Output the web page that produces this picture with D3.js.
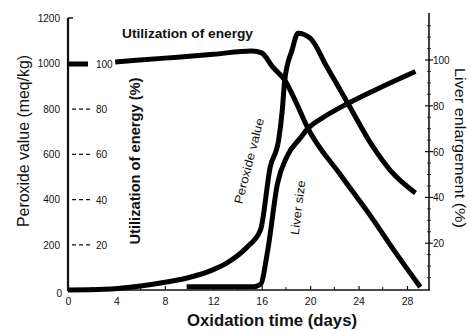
<!DOCTYPE html>
<html>
<head>
<meta charset="utf-8">
<script src="https://cdn.jsdelivr.net/npm/d3@7"></script>
<style>
  body { margin: 0; background: #fff; }
  svg { display: block; }
  text { font-family: "Liberation Sans", Arial, sans-serif; fill: #111; }
</style>
</head>
<body>
<div id="chart"></div>
<script>
var width = 470,
	height = 331;

// x ticks (days)
var dayTicks = [0, 4, 8, 12, 16, 20, 24, 28];
var peroxideTicks = [0, 200, 400, 600, 800, 1000, 1200];
var utilTicks = [20, 40, 60, 80];
var liverTicks = [20, 40, 60, 80, 100];

// Utilization of energy (%) - null = gap where the "100" label sits
var utilDays  = [0, 1.65, 2.7, 3.9, 8, 12, 15.2, 16, 16.9, 17.9, 18.8, 19.8, 22.5, 25, 27, 29.1];
var utilValue = [100, 100, null, 100.9, 102.6, 104.3, 105.8, 104.9, 98.7, 92.9, 83.5, 71.7, 51, 32.7, 17, 1.3];

// Peroxide value (meq/kg)
var peroxDays  = [0, 3, 6, 8, 10, 12, 13.1, 14.8, 15.9, 16.7, 17.4, 17.7, 17.9, 18.5, 19.0, 20, 21.4, 23.1, 25.2, 26.6, 28.7];
var peroxValue = [0, 3, 18, 34, 55, 90, 119, 190, 265, 542, 662, 794, 926, 1058, 1133, 1111, 983, 825, 631, 529, 428];

// Liver enlargement (%)
var liverDays  = [9.8, 15.3, 15.9, 16.5, 17.3, 18.1, 19.2, 19.8, 21.1, 23.1, 25.8, 28.7];
var liverValue = [1, 1, 2, 17, 46, 58, 66, 70, 75, 81, 88, 95];

var svg = d3.select("#chart").append("svg")
	.attr("width", width)
	.attr("height", height);

var x = d3.scaleLinear().domain([0, 29.9]).range([68, 430]);
var yPer = d3.scaleLinear().domain([0, 1200]).range([290, 18]);
var yUtil = d3.scaleLinear().domain([0, 100]).range([290, 64]);
var yLiver = d3.scaleLinear().domain([0, 100]).range([289, 60]);

//////////// axes ////////////
// bottom
var xAxis = svg.append("g")
	.attr("transform", "translate(0," + yPer(0) + ")")
	.call(d3.axisBottom(x).tickValues(dayTicks).tickSizeInner(-4).tickSizeOuter(0).tickPadding(8));
xAxis.select(".domain").remove();
xAxis.selectAll("line").attr("stroke", "#111").attr("stroke-width", 1.2);
xAxis.selectAll("text").attr("font-size", 10.5).attr("fill", "#222");
// minor ticks
svg.append("g").selectAll("line")
	.data(d3.range(2, 30, 4))
	.enter().append("line")
	.attr("x1", function(d){ return x(d); })
	.attr("x2", function(d){ return x(d); })
	.attr("y1", yPer(0)).attr("y2", yPer(0) - 3)
	.attr("stroke", "#111").attr("stroke-width", 1);
svg.append("line")
	.attr("x1", x(0)).attr("x2", x(29.9))
	.attr("y1", yPer(0)).attr("y2", yPer(0))
	.attr("stroke", "#111").attr("stroke-width", 1.6);

// left peroxide axis
svg.append("line")
	.attr("x1", x(0)).attr("x2", x(0))
	.attr("y1", yPer(1200)).attr("y2", yPer(0) + 1)
	.attr("stroke", "#111").attr("stroke-width", 2.2);
svg.append("line")
	.attr("x1", x(0)).attr("x2", x(0) + 5)
	.attr("y1", yPer(1200)).attr("y2", yPer(1200))
	.attr("stroke", "#111").attr("stroke-width", 1.5);
svg.append("g").selectAll("text")
	.data(peroxideTicks)
	.enter().append("text")
	.attr("x", function(d){ return d === 0 ? 62 : 60; })
	.attr("y", function(d){ return yPer(d) + (d === 0 ? 7 : 4); })
	.attr("text-anchor", "end")
	.attr("font-size", 10)
	.attr("fill", "#222")
	.text(function(d){ return d; });

// inner utilization scale: dashes + labels
svg.append("g").selectAll("line")
	.data(utilTicks)
	.enter().append("line")
	.attr("x1", 72).attr("x2", 93)
	.attr("y1", function(d){ return yUtil(d); })
	.attr("y2", function(d){ return yUtil(d); })
	.attr("stroke", "#111").attr("stroke-width", 1.3)
	.attr("stroke-dasharray", "4,3");
svg.append("g").selectAll("text")
	.data(utilTicks.concat([100]))
	.enter().append("text")
	.attr("x", 96)
	.attr("y", function(d){ return yUtil(d) + 4; })
	.attr("font-size", 10)
	.attr("fill", "#222")
	.text(function(d){ return d; });

// right liver axis
svg.append("line")
	.attr("x1", 429).attr("x2", 429)
	.attr("y1", 13).attr("y2", yPer(0))
	.attr("stroke", "#111").attr("stroke-width", 1.6);
svg.append("g").selectAll("line")
	.data(liverTicks)
	.enter().append("line")
	.attr("x1", 425).attr("x2", 433)
	.attr("y1", function(d){ return yLiver(d); })
	.attr("y2", function(d){ return yLiver(d); })
	.attr("stroke", "#111").attr("stroke-width", 1.2);
svg.append("g").selectAll("line")
	.data(d3.range(5, 120, 5).filter(function(d){ return d % 20 !== 0; }))
	.enter().append("line")
	.attr("x1", 427).attr("x2", 431)
	.attr("y1", function(d){ return yLiver(d); })
	.attr("y2", function(d){ return yLiver(d); })
	.attr("stroke", "#111").attr("stroke-width", 0.8);
svg.append("g").selectAll("text")
	.data(liverTicks)
	.enter().append("text")
	.attr("x", 433)
	.attr("y", function(d){ return yLiver(d) + 4; })
	.attr("font-size", 10)
	.attr("fill", "#222")
	.text(function(d){ return d; });

//////////// curves ////////////
function drawCurve(days, vals, yScale) {
	var pts = days.map(function(d, i){ return [d, vals[i]]; });
	var line = d3.line()
		.defined(function(d){ return d[1] !== null; })
		.x(function(d){ return x(d[0]); })
		.y(function(d){ return yScale(d[1]); })
		.curve(d3.curveMonotoneX);
	svg.append("path")
		.datum(pts)
		.attr("d", line)
		.attr("fill", "none")
		.attr("stroke", "#000")
		.attr("stroke-width", 5)
		.attr("stroke-linecap", "butt")
		.attr("stroke-linejoin", "round");
}
drawCurve(peroxDays, peroxValue, yPer);
drawCurve(utilDays, utilValue, yUtil);
drawCurve(liverDays, liverValue, yLiver);

//////////// labels ////////////
svg.append("text")
	.attr("x", 122).attr("y", 38)
	.attr("font-size", 12.5)
	.attr("font-weight", "bold")
	.attr("textLength", 131)
	.attr("lengthAdjust", "spacingAndGlyphs")
	.text("Utilization of energy");

svg.append("text")
	.attr("transform", "translate(29,141) rotate(-90)")
	.attr("text-anchor", "middle")
	.attr("font-size", 16.5)
	.attr("textLength", 172)
	.attr("lengthAdjust", "spacingAndGlyphs")
	.text("Peroxide value (meq/kg)");

svg.append("text")
	.attr("transform", "translate(140,161) rotate(-90)")
	.attr("text-anchor", "middle")
	.attr("font-size", 15)
	.attr("font-weight", "bold")
	.attr("textLength", 167)
	.attr("lengthAdjust", "spacingAndGlyphs")
	.text("Utilization of energy (%)");

svg.append("text")
	.attr("x", 272).attr("y", 326)
	.attr("text-anchor", "middle")
	.attr("font-size", 16)
	.attr("font-weight", "bold")
	.attr("textLength", 170)
	.attr("lengthAdjust", "spacingAndGlyphs")
	.text("Oxidation time (days)");

svg.append("text")
	.attr("transform", "translate(455,148) rotate(90)")
	.attr("text-anchor", "middle")
	.attr("font-size", 15)
	.attr("textLength", 160)
	.attr("lengthAdjust", "spacingAndGlyphs")
	.text("Liver enlargement (%)");

svg.append("text")
	.attr("transform", "translate(253,162) rotate(-75.5)")
	.attr("text-anchor", "middle")
	.attr("font-size", 12)
	.attr("textLength", 88)
	.attr("lengthAdjust", "spacingAndGlyphs")
	.text("Peroxide value");

svg.append("text")
	.attr("transform", "translate(302,208) rotate(-83)")
	.attr("text-anchor", "middle")
	.attr("font-size", 12)
	.attr("textLength", 55)
	.attr("lengthAdjust", "spacingAndGlyphs")
	.text("Liver size");
</script>
</body>
</html>
